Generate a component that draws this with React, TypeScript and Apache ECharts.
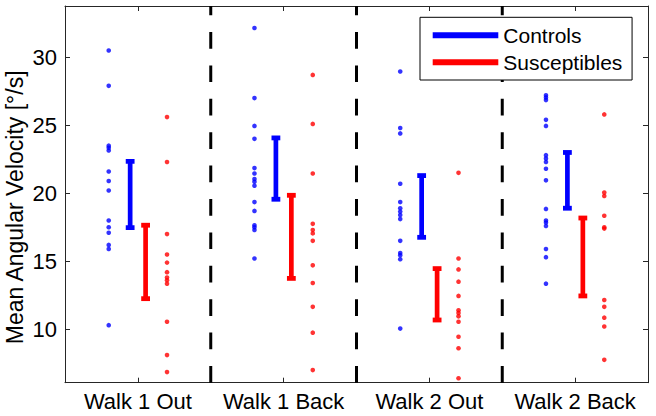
import React, { useEffect, useRef } from "react";
import * as echarts from "echarts";

const categories = ["Walk 1 Out", "Walk 1 Back", "Walk 2 Out", "Walk 2 Back"];
const yTicks = [10, 15, 20, 25, 30];
const yMin = 6.07;
const yMax = 33.77;

const controlsW1Out = [30.5, 27.9, 23.5, 23.35, 23.15, 21.6, 20.9, 20.2, 18.0, 17.5, 17.1, 16.2, 15.9, 10.3];
const susceptW1Out = [25.6, 22.3, 17.0, 15.5, 14.9, 14.2, 13.8, 13.6, 13.35, 10.55, 8.1, 6.85];
const controlsW1Back = [32.15, 27.0, 24.95, 24.0, 21.85, 21.45, 21.05, 20.85, 20.55, 19.35, 18.7, 17.65, 17.5, 17.3, 15.2];
const susceptW1Back = [28.7, 25.1, 21.45, 17.75, 17.3, 17.05, 16.5, 14.7, 13.4, 11.65, 9.75, 7.0];
const controlsW2Out = [28.95, 24.8, 24.4, 20.7, 19.35, 18.9, 18.65, 18.4, 18.1, 16.5, 15.6, 15.45, 15.15, 10.05];
const susceptW2Out = [21.5, 15.2, 14.4, 13.5, 12.45, 11.4, 11.2, 10.95, 10.55, 9.45, 8.6, 6.4];
const controlsW2Back = [27.2, 27.05, 26.85, 25.4, 24.95, 22.8, 22.55, 22.3, 21.8, 20.95, 18.85, 18.0, 17.85, 17.6, 15.9, 15.3, 13.35];
const susceptW2Back = [25.8, 20.05, 19.8, 18.35, 17.5, 17.4, 12.15, 11.65, 10.85, 10.2, 7.75];

const controlsLow = [17.47, 19.56, 16.76, 18.9];
const controlsHigh = [22.35, 24.07, 21.3, 23.0];
const susceptLow = [12.25, 13.74, 10.68, 12.45];
const susceptHigh = [17.65, 19.85, 14.46, 18.18];

const separators = [1.5, 2.5, 3.5];

const BLUE = "#0000ff";
const RED = "#ff0000";
const AXIS = "#262626";
const FONT = "'Liberation Sans', Arial, Helvetica, sans-serif";

export default function App() {
  const ref = useRef<HTMLDivElement>(null);

  useEffect(() => {
    if (!ref.current) return;
    const chart = echarts.init(ref.current, undefined, { renderer: "svg" });

    const controlsGroups = [controlsW1Out, controlsW1Back, controlsW2Out, controlsW2Back];
    const susceptGroups = [susceptW1Out, susceptW1Back, susceptW2Out, susceptW2Back];
    const ctrlPts: number[][] = [];
    const suscPts: number[][] = [];
    controlsGroups.forEach((g, i) => g.forEach((v) => ctrlPts.push([i + 1 - 0.2, v])));
    susceptGroups.forEach((g, i) => g.forEach((v) => suscPts.push([i + 1 + 0.2, v])));

    const ctrlBars = categories.map((_, i) => [i + 1 - 0.053, controlsLow[i], controlsHigh[i]]);
    const suscBars = categories.map((_, i) => [i + 1 + 0.053, susceptLow[i], susceptHigh[i]]);

    const errRender = (color: string) => (params: any, api: any) => {
      const x = api.value(0);
      const lo = api.coord([x, api.value(1)]);
      const hi = api.coord([x, api.value(2)]);
      return {
        type: "group",
        children: [
          {
            type: "line",
            shape: { x1: hi[0], y1: hi[1], x2: lo[0], y2: lo[1] },
            style: { stroke: color, lineWidth: 4.7 },
          },
          {
            type: "rect",
            shape: { x: hi[0] - 4.4, y: hi[1] - 2.4, width: 8.8, height: 4.8 },
            style: { fill: color },
          },
          {
            type: "rect",
            shape: { x: lo[0] - 4.4, y: lo[1] - 2.4, width: 8.8, height: 4.8 },
            style: { fill: color },
          },
        ],
      };
    };

    const xAxisBase = {
      type: "value",
      min: 0.5,
      max: 4.5,
      axisLine: { show: true, onZero: false, lineStyle: { color: AXIS, width: 1 } },
      axisTick: { show: true, inside: true, length: 5, customValues: [1, 2, 3, 4], lineStyle: { color: AXIS } },
      splitLine: { show: false },
    };
    const yAxisBase = {
      type: "value",
      min: yMin,
      max: yMax,
      axisLine: { show: true, onZero: false, lineStyle: { color: AXIS, width: 1 } },
      axisTick: { show: true, inside: true, length: 5, customValues: yTicks, lineStyle: { color: AXIS } },
      splitLine: { show: false },
    };

    const sepSeries = separators.map((x, i) => ({
      name: "sep" + i,
      type: "line",
      data: [
        [x, yMin],
        [x, yMax],
      ],
      symbol: "none",
      silent: true,
      lineStyle: { color: "#000", width: 3, type: [16.7, 16.7] },
      z: 1,
    }));

    chart.setOption({
      animation: false,
      backgroundColor: "#fff",
      textStyle: { fontFamily: FONT },
      grid: { left: 65, right: 8, top: 6, bottom: 33.3, containLabel: false, outerBoundsMode: "none" },
      legend: {
        orient: "vertical",
        left: 420,
        top: 17.3,
        padding: [7.4, 9.7, 7.3, 12.7],
        itemGap: 6,
        itemWidth: 65.6,
        itemHeight: 6,
        borderColor: "#000",
        borderWidth: 1,
        borderRadius: 0,
        backgroundColor: "#fff",
        selectedMode: false,
        textStyle: { fontSize: 21, color: "#000", fontFamily: FONT, lineHeight: 21 },
        data: [
          { name: "Controls", icon: "rect", itemStyle: { color: BLUE } },
          { name: "Susceptibles", icon: "rect", itemStyle: { color: RED } },
        ],
      },
      xAxis: [
        {
          ...xAxisBase,
          position: "bottom",
          axisLabel: {
            customValues: [1, 2, 3, 4],
            formatter: (v: number) => categories[Math.round(v) - 1],
            fontSize: 22,
            color: "#000",
            margin: 8,
            fontFamily: FONT,
          },
        },
        { ...xAxisBase, position: "top", axisLabel: { show: false } },
      ],
      yAxis: [
        {
          ...yAxisBase,
          position: "left",
          name: "Mean Angular Velocity [°/s]",
          nameLocation: "middle",
          nameGap: 38,
          nameMoveOverlap: false,
          nameTextStyle: {
            fontSize: 23,
            lineHeight: 24,
            color: "#000",
            fontFamily: FONT,
            padding: [0, 26, 0, 0],
          },
          axisLabel: { customValues: yTicks, fontSize: 22, color: "#000", margin: 8, fontFamily: FONT },
        },
        { ...yAxisBase, position: "right", axisLabel: { show: false } },
      ],
      series: [
        ...sepSeries,
        {
          name: "Controls points",
          type: "scatter",
          data: ctrlPts,
          symbolSize: 4.6,
          itemStyle: { color: BLUE },
          z: 2,
        },
        {
          name: "Susceptibles points",
          type: "scatter",
          data: suscPts,
          symbolSize: 4.6,
          itemStyle: { color: RED },
          z: 2,
        },
        {
          name: "Controls",
          type: "custom",
          data: ctrlBars,
          encode: { x: 0, y: [1, 2] },
          itemStyle: { color: BLUE },
          renderItem: errRender(BLUE),
          z: 3,
        },
        {
          name: "Susceptibles",
          type: "custom",
          data: suscBars,
          encode: { x: 0, y: [1, 2] },
          itemStyle: { color: RED },
          renderItem: errRender(RED),
          z: 3,
        },
      ],
    });

    return () => chart.dispose();
  }, []);

  return (
    <div
      ref={ref}
      style={{ position: "fixed", left: 0, top: 0, width: 656, height: 416, background: "#fff" }}
    />
  );
}
